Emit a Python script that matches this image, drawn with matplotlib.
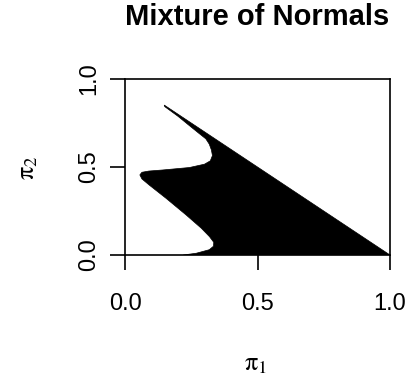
import matplotlib
matplotlib.use("Agg")
import matplotlib.pyplot as plt

plt.rcParams['font.family'] = ['Liberation Sans', 'DejaVu Sans']
plt.rcParams['mathtext.fontset'] = 'stix'

# boundary of the black region (pi1, pi2)
region_x = [0.148, 1.0, 0.22, 0.269, 0.318, 0.334, 0.335, 0.319, 0.288, 0.231,
            0.155, 0.091, 0.064, 0.056, 0.064, 0.09, 0.142, 0.243, 0.300,
            0.322, 0.330, 0.326, 0.318, 0.305, 0.28, 0.243, 0.20, 0.15]
region_y = [0.852, 0.0, 0.0, 0.01, 0.03, 0.05, 0.072, 0.104, 0.152, 0.227,
            0.322, 0.398, 0.432, 0.455, 0.47, 0.477, 0.483, 0.497, 0.516,
            0.535, 0.565, 0.597, 0.63, 0.66, 0.69, 0.735, 0.788, 0.843]

ticks = [0.0, 0.5, 1.0]
tick_labels = ["0.0", "0.5", "1.0"]

fig = plt.figure(figsize=(4.11, 3.79), dpi=100)
ax = fig.add_axes([125 / 411, 1 - 255 / 379, 265 / 411, 176 / 379])

ax.fill(region_x, region_y, color='black', lw=0.5)

ax.set_xlim(0, 1)
ax.set_ylim(0, 1)
ax.set_xticks(ticks)
ax.set_xticklabels(tick_labels, fontsize=17)
ax.set_yticks(ticks)
ax.set_yticklabels(tick_labels, fontsize=17, rotation=90, va='center')
ax.tick_params(axis='x', length=11, width=1.2, pad=16)
ax.tick_params(axis='y', length=11, width=1.2, pad=7)
for s in ax.spines.values():
    s.set_linewidth(1.2)

fig.text(257.5 / 411, 1 - 17 / 379, "Mixture of Normals", fontsize=21,
         fontweight='bold', ha='center', va='center')
fig.text(256 / 411, 1 - 364 / 379, r'$\mathrm{\pi}_1$', fontsize=19,
         ha='center', va='center')
fig.text(28 / 411, 1 - 168 / 379, r'$\mathrm{\pi}_2$', fontsize=19, rotation=90,
         ha='center', va='center')

fig.savefig("out.png", dpi=100)
